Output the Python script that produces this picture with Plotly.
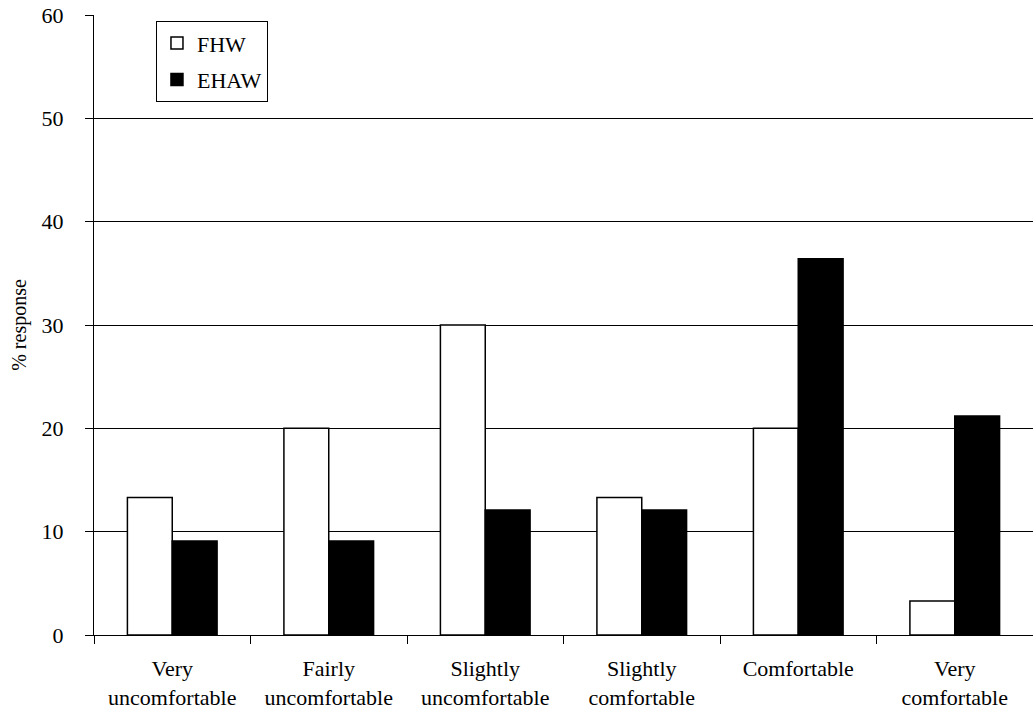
import plotly.graph_objects as go

categories = ["Very<br>uncomfortable", "Fairly<br>uncomfortable", "Slightly<br>uncomfortable",
              "Slightly<br>comfortable", "Comfortable", "Very<br>comfortable"]
fhw = [13.3, 20.0, 30.0, 13.3, 20.0, 3.3]
ehaw = [9.1, 9.1, 12.1, 12.1, 36.4, 21.2]
y_ticks = [0, 10, 20, 30, 40, 50, 60]

font_family = "Liberation Serif"

fig = go.Figure()
fig.add_trace(go.Bar(name="FHW", x=categories, y=fhw, legendgroup="a",
                     marker=dict(color="white", line=dict(color="black", width=1.5))))
fig.add_trace(go.Bar(name="EHAW", x=categories, y=ehaw, legendgroup="b",
                     marker=dict(color="black", line=dict(color="black", width=1.5))))

fig.update_layout(
    width=1033, height=721,
    margin=dict(l=94, r=0, t=15, b=86, autoexpand=False),
    paper_bgcolor="white", plot_bgcolor="white",
    barmode="group", bargap=0.427, bargroupgap=0,
    font=dict(family=font_family, color="black", size=20),
    legend=dict(x=0.066, y=0.99, xanchor="left", yanchor="top",
                bordercolor="black", borderwidth=1, bgcolor="white",
                font=dict(size=22, family=font_family),
                itemwidth=30, traceorder="grouped", tracegroupgap=5),
    showlegend=True,
)
fig.update_xaxes(
    type="category", tickson="boundaries", ticks="outside", ticklen=8,
    tickcolor="black", showline=True, linecolor="black", linewidth=1,
    showgrid=False, tickfont=dict(size=22, family=font_family),
    range=[-0.5, 5.5], automargin=False, ticklabelstandoff=14,
)
fig.update_yaxes(
    range=[0, 60], tickvals=y_ticks, ticks="outside", ticklen=8, tickcolor="black",
    showline=True, linecolor="black", linewidth=1,
    showgrid=True, gridcolor="black", gridwidth=1,
    tickfont=dict(size=22, family=font_family), ticklabelstandoff=17,
    ticklabeloverflow="allow",
    title=dict(text="% response", font=dict(size=20, family=font_family), standoff=9),
    zeroline=False, automargin=False,
)

fig.write_html("out.html", config={"displayModeBar": False},
               post_script="document.body.style.margin='0px';")
